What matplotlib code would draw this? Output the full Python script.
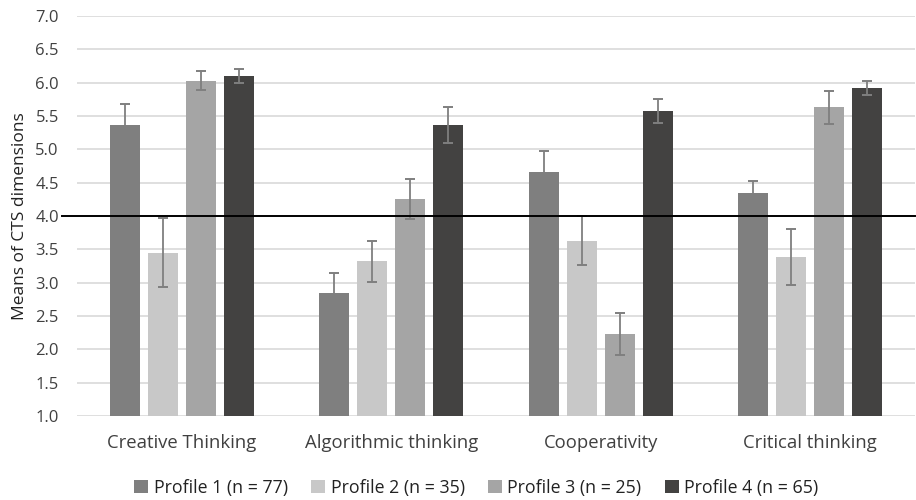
import matplotlib
matplotlib.use("Agg")
import matplotlib.pyplot as plt
import numpy as np

categories = ["Creative Thinking", "Algorithmic thinking", "Cooperativity", "Critical thinking"]
profiles = ["Profile 1 (n = 77)", "Profile 2 (n = 35)", "Profile 3 (n = 25)", "Profile 4 (n = 65)"]
means = {
    "Profile 1 (n = 77)": [5.36, 2.84, 4.66, 4.35],
    "Profile 2 (n = 35)": [3.45, 3.32, 3.63, 3.39],
    "Profile 3 (n = 25)": [6.03, 4.26, 2.23, 5.63],
    "Profile 4 (n = 65)": [6.10, 5.36, 5.58, 5.92],
}
errors = {
    "Profile 1 (n = 77)": [0.32, 0.31, 0.31, 0.18],
    "Profile 2 (n = 35)": [0.52, 0.31, 0.37, 0.42],
    "Profile 3 (n = 25)": [0.14, 0.30, 0.31, 0.25],
    "Profile 4 (n = 65)": [0.11, 0.27, 0.18, 0.10],
}
colors = ["#7f7f7f", "#c8c8c8", "#a5a5a5", "#434241"]
threshold = 4.0

plt.rcParams['font.family'] = ['Open Sans', 'DejaVu Sans']

fig = plt.figure(figsize=(9.16, 5.0), dpi=100)
ax = fig.add_axes([0.084, 0.168, 0.915, 0.8])

x = np.arange(len(categories))
width = 0.143
step = 0.181
for i, p in enumerate(profiles):
    pos = x + (i - 1.5) * step
    ax.bar(pos, np.array(means[p]) - 1.0, width, bottom=1.0, color=colors[i], label=p, zorder=3)
    ax.errorbar(pos, means[p], yerr=errors[p], fmt="none", ecolor="#7f7f7f",
                elinewidth=1.3, capsize=3.6, capthick=1.4, zorder=4)

ax.axhline(threshold, xmin=-0.018, xmax=1.0, color="black", lw=1.4, zorder=5, clip_on=False)

ax.set_ylim(1.0, 7.0)
ax.set_xlim(-0.5, 3.5)
ax.set_yticks(np.arange(1.0, 7.01, 0.5))
ax.set_yticklabels([f"{v:.1f}" for v in np.arange(1.0, 7.01, 0.5)], fontsize=12)
ax.set_xticks(x)
ax.set_xticklabels(categories, fontsize=13.3)
ax.tick_params(axis="both", length=0, colors="#404040")
ax.tick_params(axis="x", pad=13)
ax.tick_params(axis="y", pad=13)
ax.yaxis.grid(True, color="#d9d9d9", lw=1.2, zorder=0)
ax.set_axisbelow(True)
for s in ax.spines.values():
    s.set_visible(False)
ax.set_ylabel("Means of CTS dimensions", fontsize=12.5, color="#222222", labelpad=5)

leg = fig.legend(loc="center", bbox_to_anchor=(0.52, 0.025), ncol=4, frameon=False,
                 fontsize=12.8, handlelength=0.8, handleheight=0.8, handletextpad=0.3,
                 columnspacing=1.3)
for t in leg.get_texts():
    t.set_color("#222222")

fig.savefig("out.png", dpi=100)
